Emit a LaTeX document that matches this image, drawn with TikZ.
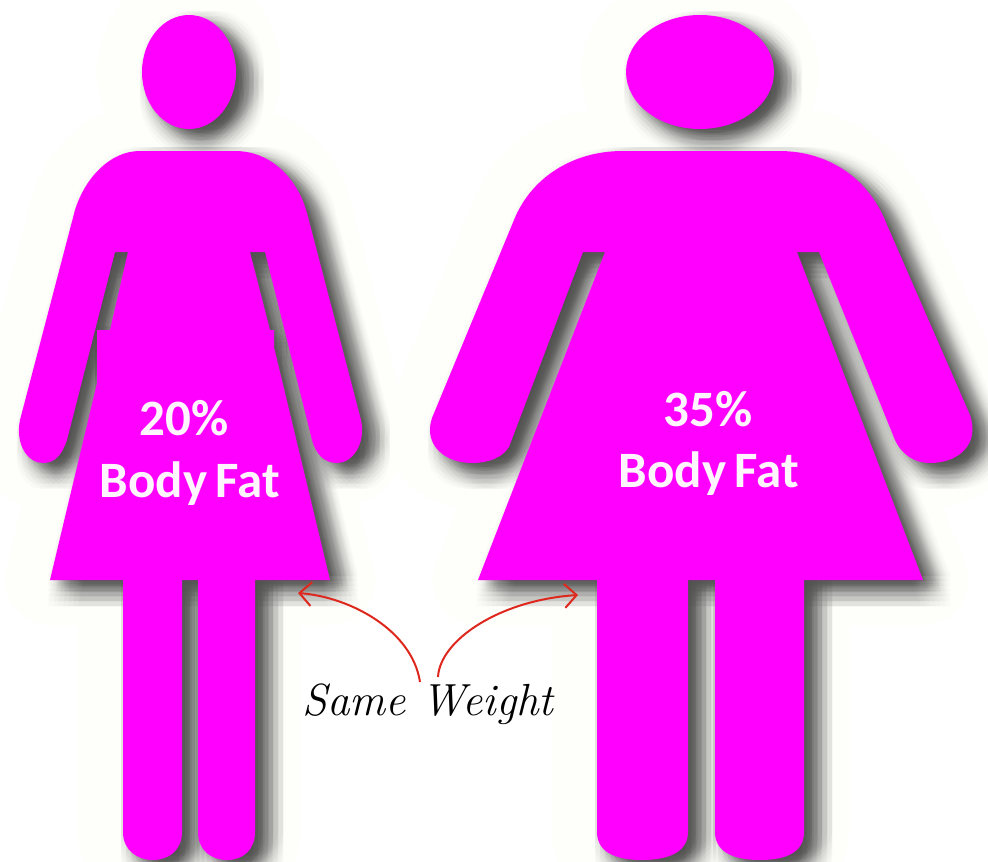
\documentclass[tikz,border=0pt]{standalone}
\usepackage{fontspec}
\usepackage{tikz}
\usetikzlibrary{arrows.meta,positioning}
\newfontfamily\calfont{Carlito}
\definecolor{bodypink}{RGB}{255,0,255}
\definecolor{arrowred}{RGB}{222,40,30}
\definecolor{halotint}{RGB}{254,254,251}
\tikzset{
  slimfigure/.style={insert path={
    (189,72) ellipse [x radius=47, y radius=57]
    (140,151) -- (235,151) .. controls (272,151) and (298,180) .. (307,213)
    -- (361,420) .. controls (366,445) and (352,463) .. (337,463)
    .. controls (325,463) and (316,455) .. (312,440)
    -- (265,252) -- (250,252) -- (270,330) -- (274,330) -- (274,347) -- (330,580)
    -- (255,580) -- (255,832) .. controls (255,850) and (243,860) .. (227,860)
    .. controls (211,860) and (198,850) .. (198,832)
    -- (198,580) -- (182,580) -- (182,832) .. controls (182,850) and (169,860) .. (153,860)
    .. controls (137,860) and (123,850) .. (123,832)
    -- (123,580) -- (50,580) -- (97,383) -- (97,330) -- (110,330) -- (128,252) -- (115,252)
    -- (67,440) .. controls (62,455) and (55,463) .. (43,463)
    .. controls (28,463) and (15,445) .. (20,420)
    -- (75,210) .. controls (85,178) and (110,151) .. (140,151) -- cycle}},
  widefigure/.style={insert path={
    (700,72) ellipse [x radius=74, y radius=57]
    (623,151) -- (779,151) .. controls (830,151) and (870,180) .. (887,225)
    -- (970,415) .. controls (980,445) and (958,463) .. (930,463)
    .. controls (915,463) and (902,455) .. (895,440)
    -- (819,252) -- (797,252) -- (923,580)
    -- (804,580) -- (804,832) .. controls (804,850) and (790,860) .. (760,860)
    .. controls (730,860) and (715,850) .. (715,832)
    -- (715,580) -- (688,580) -- (688,832) .. controls (688,850) and (672,860) .. (642,860)
    .. controls (612,860) and (597,850) .. (597,832)
    -- (597,580) -- (478,580) -- (605,252) -- (583,252)
    -- (509,447) .. controls (502,458) and (488,463) .. (472,463)
    .. controls (445,463) and (423,445) .. (432,418)
    -- (514,220) .. controls (530,180) and (570,151) .. (623,151) -- cycle}},
  softshadow/.style={fill=black, fill opacity=0.014},
  coreshadow/.style={fill=black, fill opacity=0.02},
  figlabel/.style={font=\calfont\bfseries\fontsize{51}{51}\selectfont, text=white!96!bodypink, inner sep=0pt},
  weightarrow/.style={-{Straight Barb[length=12pt,width=24pt]}, arrowred, line width=2pt}
}

\begin{document}
\begin{tikzpicture}[x=1pt, y=-1pt]
  \useasboundingbox (0,0) rectangle (988,862);
  % Faint halo
  \draw[halotint, line width=90pt, line join=round, slimfigure];
  \draw[halotint, line width=90pt, line join=round, widefigure];
  % Drop shadows
  \foreach \dx in {-2,3,...,28} {
    \foreach \dy in {-4,1,...,26} {
      \path[softshadow, shift={(\dx,\dy)}, slimfigure];
      \path[softshadow, shift={(\dx,\dy)}, widefigure];
    }
  }
  \foreach \dx in {6,10,14,18} {
    \foreach \dy in {4,8,12} {
      \path[coreshadow, shift={(\dx,\dy)}, slimfigure];
      \path[coreshadow, shift={(\dx,\dy)}, widefigure];
    }
  }
  % Figures
  \fill[bodypink, slimfigure];
  \fill[bodypink, widefigure];
  % Labels
  \node[figlabel] (slimpct) at (184,418) {20\%};
  \node[figlabel] (slimfat) at (190,484) {Body\hspace{-3pt} Fat};
  \node[figlabel] (widepct) at (708,409) {35\%};
  \node[figlabel] (widefat) at (709,474) {Body\hspace{-3pt} Fat};
  % Arrows
  \node[font=\itshape\fontsize{45}{45}\selectfont, text=black, inner sep=0pt] (weight) at (428,704) {Same Weight};
  \coordinate (weightleft) at (420,682);
  \coordinate (weightright) at (438,677);
  \coordinate (hipleft) at (298,593);
  \coordinate (hipright) at (578,595);
  \draw[weightarrow] (weightleft) .. controls (412,630) and (350,597) .. (hipleft);
  \draw[weightarrow] (weightright) .. controls (440,640) and (500,600) .. (hipright);
\end{tikzpicture}
\end{document}
